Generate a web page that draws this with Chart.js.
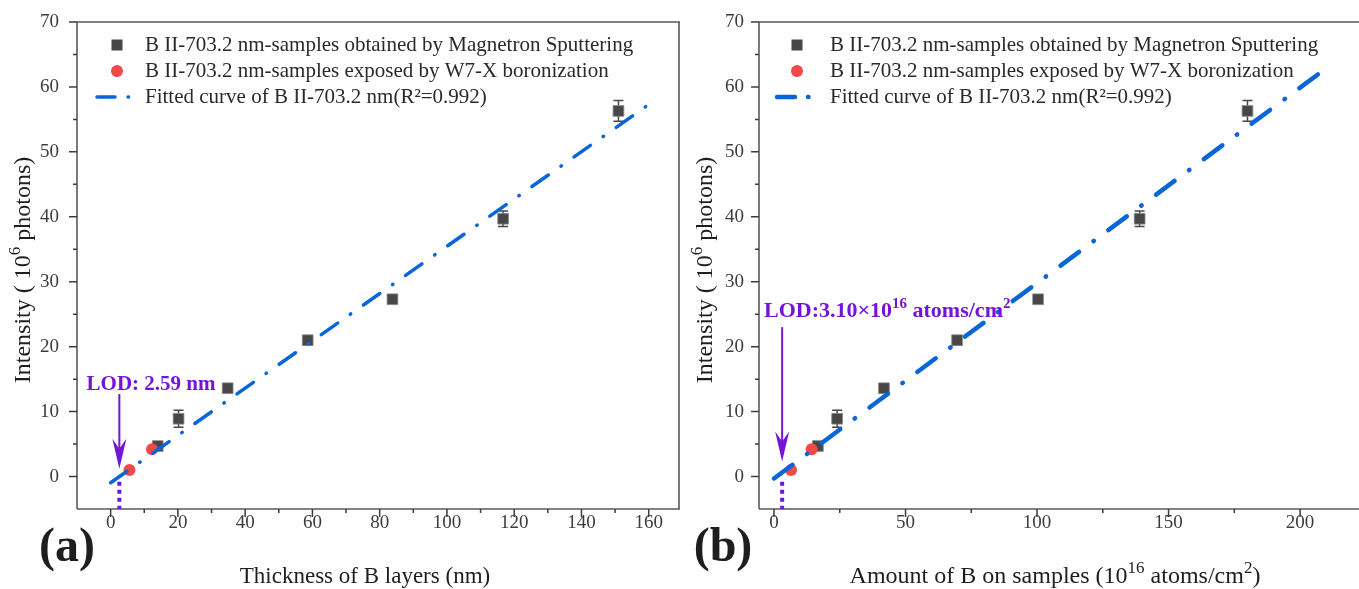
<!DOCTYPE html>
<html>
<head>
<meta charset="utf-8">
<script src="https://cdn.jsdelivr.net/npm/chart.js@4.4.1/dist/chart.umd.min.js"></script>
<style>
  html, body { margin: 0; padding: 0; background: #fff; overflow: hidden; }
  #ca { position: absolute; left: 0; top: 0; }
  #cb { position: absolute; left: 680px; top: 0; }
</style>
</head>
<body>
<canvas id="ca" width="680" height="589"></canvas>
<canvas id="cb" width="679" height="589"></canvas>
<script>
// ---- data ----
// (a) x = thickness of B layers (nm)
const thickMS = [14.0, 20.2, 34.8, 58.6, 83.8, 116.7, 151.0];
const thickW7 = [5.6, 12.3];
// (b) x = amount of B (1e16 atoms/cm2)
const amountMS = [16.7, 24.0, 41.8, 69.6, 100.4, 139.0, 180.0];
const amountW7 = [6.5, 14.3];
// intensity (1e6 photons), same for both panels
const intenMS = [4.7, 8.9, 13.6, 21.0, 27.3, 39.7, 56.3];
const errMS   = [0.5, 1.3, 0.5, 0.7, 0.6, 1.2, 1.6];
const intenW7 = [1.0, 4.2];
// fitted lines, end points
const fitAx = [0, 160];
const fitAy = [-0.95, 57.3];
const fitBx = [0, 211];
const fitBy = [-0.3, 63.2];
// limit of detection
const lodA = 2.59;
const lodB = 3.10;
// ticks
const yMajor = [0, 10, 20, 30, 40, 50, 60, 70];
const yMinor = [-5, 5, 15, 25, 35, 45, 55, 65];
const xMajorA = [0, 20, 40, 60, 80, 100, 120, 140, 160];
const xMinorA = [-10, 10, 30, 50, 70, 90, 110, 130, 150];
const xMajorB = [0, 50, 100, 150, 200];
const xMinorB = [25, 75, 125, 175];
const legendLabels = [
  'B II-703.2 nm-samples obtained by Magnetron Sputtering',
  'B II-703.2 nm-samples exposed by W7-X boronization',
  'Fitted curve of B II-703.2 nm(R\u00b2=0.992)'
];

const SERIF = '"Liberation Serif", "Times New Roman", serif';
const GREY = '#474747';
const RED = '#f24848';
const BLUE = '#0866d6';
const PURPLE = '#7414d8';

function toPts(xs, ys) {
  return xs.map((x, i) => ({ x: x, y: ys[i] }));
}

// text with superscripts; parts = [[text, isSup], ...]
function drawRich(ctx, parts, x, y, size, weight, align) {
  let w = 0;
  const ws = parts.map(p => {
    ctx.font = weight + ' ' + (p[1] ? Math.round(size * 0.7) : size) + 'px ' + SERIF;
    const m = ctx.measureText(p[0]).width;
    w += m;
    return m;
  });
  let cx = align === 'left' ? x : x - w / 2;
  ctx.textAlign = 'left';
  ctx.textBaseline = 'alphabetic';
  parts.forEach((p, i) => {
    ctx.font = weight + ' ' + (p[1] ? Math.round(size * 0.7) : size) + 'px ' + SERIF;
    ctx.fillText(p[0], cx, p[1] ? y - size * 0.4 : y);
    cx += ws[i];
  });
}

const decor = {
  id: 'decor',
  beforeDatasetsDraw(chart, args, o) {
    const ctx = chart.ctx, xs = chart.scales.x, ys = chart.scales.y;
    // error bars
    ctx.save();
    ctx.strokeStyle = GREY;
    ctx.lineWidth = 1.5;
    o.ex.forEach((x, i) => {
      const px = xs.getPixelForValue(x);
      const y1 = ys.getPixelForValue(intenMS[i] + errMS[i]);
      const y2 = ys.getPixelForValue(intenMS[i] - errMS[i]);
      ctx.beginPath();
      ctx.moveTo(px, y1); ctx.lineTo(px, y2);
      ctx.moveTo(px - 5, y1); ctx.lineTo(px + 5, y1);
      ctx.moveTo(px - 5, y2); ctx.lineTo(px + 5, y2);
      ctx.stroke();
    });
    ctx.restore();
  },
  afterDraw(chart, args, o) {
    const ctx = chart.ctx, a = chart.chartArea, xs = chart.scales.x, ys = chart.scales.y;
    ctx.save();
    // frame
    ctx.strokeStyle = '#5a5a5a';
    ctx.lineWidth = 1.6;
    ctx.beginPath();
    ctx.moveTo(a.left, a.bottom); ctx.lineTo(a.left, a.top); ctx.lineTo(chart.width + 2, a.top);
    ctx.moveTo(a.left, a.bottom); ctx.lineTo(chart.width + 2, a.bottom);
    if (o.rightBorder) { ctx.moveTo(a.right, a.top); ctx.lineTo(a.right, a.bottom); }
    ctx.stroke();
    // ticks
    ctx.strokeStyle = '#3c3c3c';
    ctx.lineWidth = 1.5;
    ctx.beginPath();
    o.xMajor.forEach(v => { const p = xs.getPixelForValue(v); ctx.moveTo(p, a.bottom); ctx.lineTo(p, a.bottom + 8); });
    o.xMinor.forEach(v => { const p = xs.getPixelForValue(v); if (p > a.left) { ctx.moveTo(p, a.bottom); ctx.lineTo(p, a.bottom + 4); } });
    yMajor.forEach(v => { const p = ys.getPixelForValue(v); ctx.moveTo(a.left - 8, p); ctx.lineTo(a.left, p); });
    yMinor.forEach(v => { const p = ys.getPixelForValue(v); if (p < a.bottom) { ctx.moveTo(a.left - 4, p); ctx.lineTo(a.left, p); } });
    ctx.stroke();

    // legend
    const lx = o.legX, tx = o.legText;
    ctx.fillStyle = GREY;
    ctx.fillRect(lx - 5.5, 45 - 5.5, 11, 11);
    ctx.fillStyle = RED;
    ctx.beginPath(); ctx.arc(lx, 71, 6, 0, Math.PI * 2); ctx.fill();
    ctx.strokeStyle = BLUE;
    ctx.lineWidth = o.fitW;
    ctx.lineCap = 'round';
    ctx.setLineDash(o.legDash);
    ctx.beginPath(); ctx.moveTo(lx - 20, 97); ctx.lineTo(lx + 16, 97); ctx.stroke();
    ctx.setLineDash([]);
    ctx.fillStyle = '#2a2a2a';
    ctx.font = '21px ' + SERIF;
    ctx.textAlign = 'left';
    ctx.textBaseline = 'middle';
    legendLabels.forEach((t, i) => ctx.fillText(t, tx, 45 + i * 26));

    // axis titles
    ctx.fillStyle = '#1e1e1e';
    drawRich(ctx, o.xTitle, (a.left + a.right) / 2 + o.xTitleShift, 583, o.xTitleSize, 'normal', 'center');
    ctx.save();
    ctx.translate(o.yTitleX, 270);
    ctx.rotate(-Math.PI / 2);
    drawRich(ctx, [['Intensity ( 10', false], ['6', true], [' photons)', false]], 0, 0, 24, 'normal', 'center');
    ctx.restore();
    // panel label
    ctx.font = 'bold 48px ' + SERIF;
    ctx.textAlign = 'center';
    ctx.textBaseline = 'middle';
    ctx.fillText(o.panel, o.panelX, 549);

    // LOD marker
    const lp = xs.getPixelForValue(o.lod);
    ctx.strokeStyle = PURPLE;
    ctx.fillStyle = PURPLE;
    ctx.lineWidth = 2;
    ctx.lineCap = 'butt';
    ctx.beginPath();
    ctx.moveTo(lp, ys.getPixelForValue(o.arrowTop));
    ctx.lineTo(lp, ys.getPixelForValue(o.arrowTip) - 20);
    ctx.stroke();
    const tip = ys.getPixelForValue(o.arrowTip);
    ctx.beginPath();
    ctx.moveTo(lp, tip); ctx.lineTo(lp - 7, tip - 30); ctx.lineTo(lp, tip - 20); ctx.lineTo(lp + 7, tip - 30);
    ctx.closePath(); ctx.fill();
    ctx.lineWidth = 4;
    ctx.setLineDash([4, 4]);
    ctx.beginPath();
    ctx.moveTo(lp, ys.getPixelForValue(-0.8)); ctx.lineTo(lp, a.bottom);
    ctx.stroke();
    ctx.setLineDash([]);
    drawRich(ctx, o.lodText, o.lodTextX, o.lodTextY, o.lodSize, 'bold', o.lodAlign);
    ctx.restore();
  }
};

function noPad(s) {
  s.paddingLeft = 0; s.paddingRight = 0; s.paddingTop = 0; s.paddingBottom = 0;
}

function makeChart(id, o) {
  return new Chart(document.getElementById(id), {
    type: 'scatter',
    data: {
      datasets: [
        { label: legendLabels[2], type: 'line', data: toPts(o.fitX, o.fitY), showLine: true,
          borderColor: BLUE, borderWidth: o.fitW, borderDash: o.fitDash, borderCapStyle: 'round',
          pointRadius: 0, fill: false, order: 1 },
        { label: legendLabels[1], data: toPts(o.w7, intenW7), pointStyle: 'circle', pointRadius: 6,
          backgroundColor: RED, borderColor: RED, borderWidth: 0, order: 2 },
        { label: legendLabels[0], data: toPts(o.ms, intenMS), pointStyle: 'rect', pointRadius: 7.6,
          backgroundColor: GREY, borderColor: '#8a8a8a', borderWidth: 0.8, order: 3 }
      ]
    },
    options: {
      responsive: false,
      animation: false,
      layout: { autoPadding: false, padding: { top: 22, right: o.padRight, left: 0, bottom: 0 } },
      plugins: {
        legend: { display: false },
        tooltip: { enabled: false },
        decor: o.decor
      },
      scales: {
        x: {
          type: 'linear', min: o.xMin, max: o.xMax,
          grid: { display: false, tickLength: 3 }, border: { display: false },
          ticks: { autoSkip: false, maxRotation: 0, padding: 0, color: '#3c3c3c', font: { family: SERIF, size: 19 } },
          afterBuildTicks: s => { s.ticks = o.xMajor.map(v => ({ value: v })); },
          afterFit: s => { s.height = 80; noPad(s); }
        },
        y: {
          type: 'linear', min: -5, max: 70,
          grid: { display: false, tickLength: 8 }, border: { display: false },
          ticks: { autoSkip: false, padding: o.yPad, color: '#3c3c3c', font: { family: SERIF, size: 19 } },
          afterBuildTicks: s => { s.ticks = yMajor.map(v => ({ value: v })); },
          afterFit: s => { s.width = o.yWidth; noPad(s); }
        }
      }
    },
    plugins: [decor]
  });
}

const dashA = [20, 15.5, 0.5, 15.5];
const dashB = [23, 18, 0.5, 18];

makeChart('ca', {
  xMin: -10, xMax: 169, xMajor: xMajorA, yWidth: 77, yPad: 10, padRight: 1,
  fitX: fitAx, fitY: fitAy, fitW: 3.5, fitDash: dashA, ms: thickMS, w7: thickW7,
  decor: {
    ex: thickMS, xMajor: xMajorA, xMinor: xMinorA, rightBorder: true,
    legX: 117, legText: 145, fitW: 3.5, legDash: [18, 13, 0.5, 13],
    xTitle: [['Thickness of B layers (nm)', false]], xTitleSize: 23, xTitleShift: -13, yTitleX: 30,
    panel: '(a)', panelX: 67,
    lod: lodA, arrowTop: 12.7, arrowTip: 1.2,
    lodText: [['LOD: 2.59 nm', false]], lodSize: 21, lodTextX: 151, lodTextY: 390, lodAlign: 'center'
  }
});

makeChart('cb', {
  xMin: -5.7, xMax: 222.4, xMajor: xMajorB, yWidth: 79, yPad: 7, padRight: 0,
  fitX: fitBx, fitY: fitBy, fitW: 4.5, fitDash: dashB, ms: amountMS, w7: amountW7,
  decor: {
    ex: amountMS, xMajor: xMajorB, xMinor: xMinorB, rightBorder: false,
    legX: 117, legText: 150, fitW: 4.5, legDash: [18, 13, 0.5, 13],
    xTitle: [['Amount of B on samples (10', false], ['16', true], [' atoms/cm', false], ['2', true], [')', false]],
    xTitleSize: 24, xTitleShift: -4, yTitleX: 32,
    panel: '(b)', panelX: 43,
    lod: lodB, arrowTop: 23, arrowTip: 2.3,
    lodText: [['LOD:3.10\u00d710', false], ['16', true], [' atoms/cm', false], ['2', true]],
    lodSize: 22, lodTextX: 84, lodTextY: 317, lodAlign: 'left'
  }
});
</script>
</body>
</html>
